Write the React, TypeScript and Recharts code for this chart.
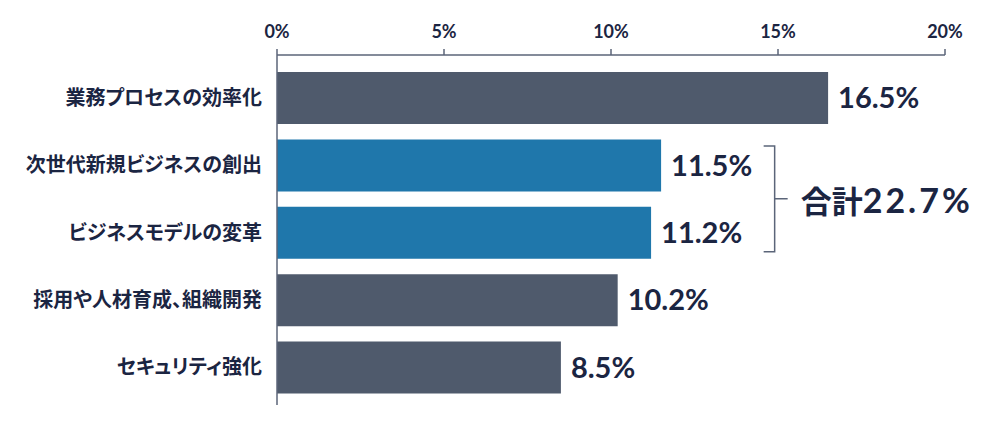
import React from 'react';
import { BarChart, Bar, XAxis, YAxis, Cell, LabelList, ReferenceArea } from 'recharts';

const categories = [
  '業務プロセスの効率化',
  '次世代新規ビジネスの創出',
  'ビジネスモデルの変革',
  '採用や人材育成、組織開発',
  'セキュリティ強化',
];
const values = [16.5, 11.5, 11.2, 10.2, 8.5];
const highlighted = [false, true, true, false, false];
const xTicks = [0, 5, 10, 15, 20];
const bracketX = 14.9;
const bracketLabel = '合計';
const bracketValue = '22.7%';

const data = categories.map((name, i) => ({ name, value: values[i], hi: highlighted[i] }));

const TEXT = '#1b2542';
const AXIS = '#5b6579';
const GRAY = '#4f5a6c';
const BLUE = '#1f77ab';

const Bracket = (props: any) => {
  const { x, y, height } = props;
  const top = y + 14.5;
  const bottom = y + height - 14.5;
  const mid = (top + bottom) / 2;
  return (
    <g>
      <path
        d={`M${x - 11},${top} H${x} V${bottom} H${x - 11} M${x},${mid} H${x + 13}`}
        stroke={AXIS}
        strokeWidth={1.5}
        fill="none"
      />
      <text x={x + 26} y={mid} dominantBaseline="central" fill={TEXT} fontWeight={700}>
        <tspan fontFamily="'Noto Sans CJK JP'" fontSize={31}>{bracketLabel}</tspan>
        <tspan fontFamily="Lato" fontSize={34} letterSpacing={3}>{bracketValue}</tspan>
      </text>
    </g>
  );
};

export default function App() {
  return (
    <BarChart
      width={984}
      height={410}
      data={data}
      layout="vertical"
      margin={{ top: 17, right: 47, bottom: 13, left: 0 }}
    >
      <XAxis
        type="number"
        orientation="top"
        domain={[0, 20]}
        ticks={xTicks}
        tickFormatter={(v: number) => `${v}%`}
        height={30}
        axisLine={{ stroke: AXIS, strokeWidth: 1.5 }}
        tickLine={{ stroke: AXIS, strokeWidth: 1.5 }}
        tickSize={6}
        tickMargin={11}
        tick={{ fill: TEXT, fontSize: 18, fontFamily: 'Lato', fontWeight: 700 }}
        interval={0}
      />
      <YAxis
        type="category"
        dataKey="name"
        width={269}
        padding={{ top: 9, bottom: 4 }}
        axisLine={{ stroke: AXIS, strokeWidth: 1.5 }}
        tickLine={false}
        tickMargin={9}
        tick={{ fill: TEXT, fontSize: 20, fontFamily: "'Noto Sans CJK JP'", fontWeight: 700, style: { fontFeatureSettings: '"palt"' } }}
        interval={0}
      />
      <Bar dataKey="value" barSize={52} isAnimationActive={false}>
        {data.map((d, i) => (
          <Cell key={i} fill={d.hi ? BLUE : GRAY} />
        ))}
        <LabelList
          dataKey="value"
          position="right"
          offset={10}
          formatter={(v: number) => `${v.toFixed(1)}%`}
          style={{ fill: TEXT, fontSize: 29, fontFamily: 'Lato', fontWeight: 700 }}
        />
      </Bar>
      <ReferenceArea
        x1={bracketX}
        x2={bracketX + 0.3}
        y1={categories[1]}
        y2={categories[2]}
        shape={<Bracket />}
        ifOverflow="visible"
      />
    </BarChart>
  );
}
